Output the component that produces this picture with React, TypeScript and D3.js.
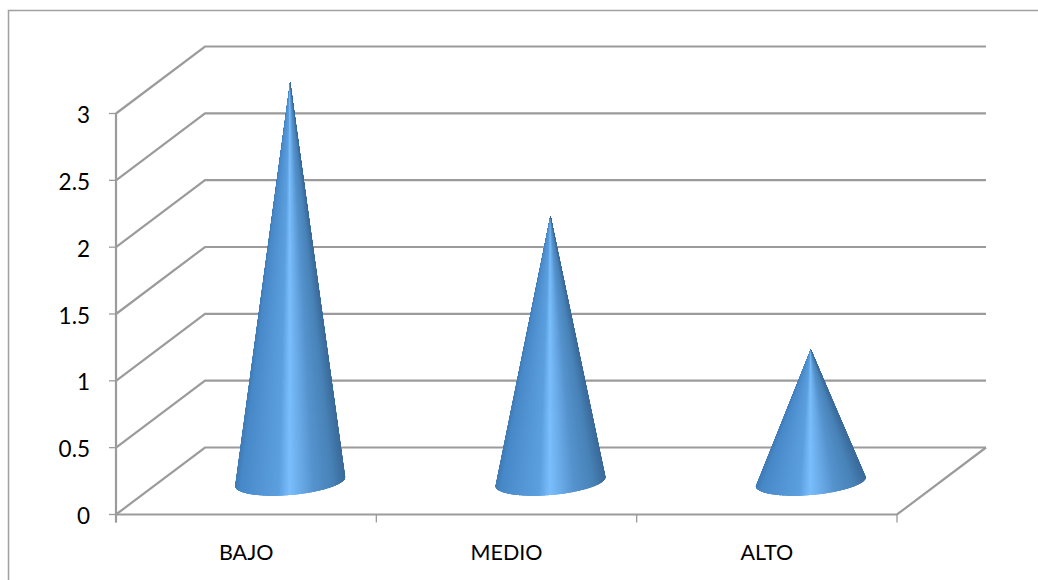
import React from "react";
import * as d3 from "d3";

const categories = ["BAJO", "MEDIO", "ALTO"];
const values = [3, 2, 1];
const yTicks = [0, 0.5, 1, 1.5, 2, 2.5, 3];
const tickLabels = ["0", "0.5", "1", "1.5", "2", "2.5", "3"];

const shadeOffsets = [0, 0.05, 0.2, 0.4, 0.5, 0.56, 0.72, 0.9, 1];
const shadeColors = ["#3f7ab4", "#4788c8", "#5193d2", "#5c9fdf", "#7abefd", "#70b2f0", "#5593ce", "#4781b6", "#3a6a9b"];

const W = 1038, H = 580;
const x0 = 116, x1 = 897, y0 = 514.5, y3 = 113.5;
const dx = 89, dy = -67;
const grid = "#9b9b9b";

const x = d3.scaleBand<string>().domain(categories).range([x0, x1]).padding(0);
const y = d3.scaleLinear().domain([0, 3]).range([y0, y3]);
const shade = d3.scaleLinear<string>().domain(shadeOffsets).range(shadeColors).interpolate(d3.interpolateRgb);

const slices = d3.range(0, 240);

export default function App() {
  const path = d3.line<[number, number]>();
  return (
    <svg width={W} height={H} viewBox={`0 0 ${W} ${H}`}
      style={{ position: "fixed", left: 0, top: 0, background: "#fff", fontFamily: "Lato,'Open Sans',sans-serif" }}>
      <path d={`M${W},10.5 H8.5 V${H}`} fill="none" stroke="#a0a0a0" strokeWidth={1.5} />

      {yTicks.map(t => {
        const yy = y(t);
        return (
          <g key={t}>
            <path d={path([[x0, yy], [x0 + dx, yy + dy], [x1 + dx, yy + dy]]) ?? ""}
              fill="none" stroke={grid} strokeWidth={2.2} />
            <line x1={x0 - 7} x2={x0} y1={yy} y2={yy} stroke={grid} strokeWidth={1.3} />
          </g>
        );
      })}
      <line x1={x0} x2={x0} y1={y3} y2={y0 + 8} stroke={grid} strokeWidth={2.2} />
      <path d={path([[x0, y0], [x1, y0], [x1 + dx, y0 + dy]]) ?? ""} fill="none" stroke={grid} strokeWidth={2.2} />
      {[0, 1, 2, 3].map(i => {
        const tx = x0 + i * x.bandwidth();
        return <line key={i} x1={tx} x2={tx} y1={y0} y2={y0 + 8} stroke={grid} strokeWidth={1.3} />;
      })}

      {yTicks.map((t, i) => (
        <text key={t} x={90} y={y(t) + 9.5} textAnchor="end" fontSize={22.5} fill="#000">{tickLabels[i]}</text>
      ))}

      {categories.map((c, i) => {
        const cx = (x(c) ?? 0) + x.bandwidth() / 2 + 44;
        const cy = y0 - 33;
        const tip = y(values[i]) - 31.5;
        const ux = 55, uy = -4.5, vy = 13.5;
        const pt = (th: number): [number, number] => [cx + ux * Math.cos(th), cy + uy * Math.cos(th) + vy * Math.sin(th)];
        const n = slices.length;
        const rim = d3.range(0, n + 1).map(k => pt(Math.PI * (1 - k / n)));
        const outline = (path([[cx, tip], ...rim]) ?? "") + "Z";
        return (
          <g key={c}>
            <clipPath id={`coneClip${i}`}><path d={outline} /></clipPath>
            <g clipPath={`url(#coneClip${i})`} shapeRendering="crispEdges">
              {slices.map(k => {
                const f = (1 - Math.cos(Math.PI * (k + 0.5) / n)) / 2;
                const col = shade(f);
                return <path key={k} d={(path([[cx, tip], rim[k], rim[k + 1]]) ?? "") + "Z"} fill={col} stroke={col} strokeWidth={1} />;
              })}
            </g>
          </g>
        );
      })}

      {categories.map(c => (
        <text key={c} x={(x(c) ?? 0) + x.bandwidth() / 2} y={560} textAnchor="middle" fontSize={21.5} fill="#000">{c}</text>
      ))}
    </svg>
  );
}
